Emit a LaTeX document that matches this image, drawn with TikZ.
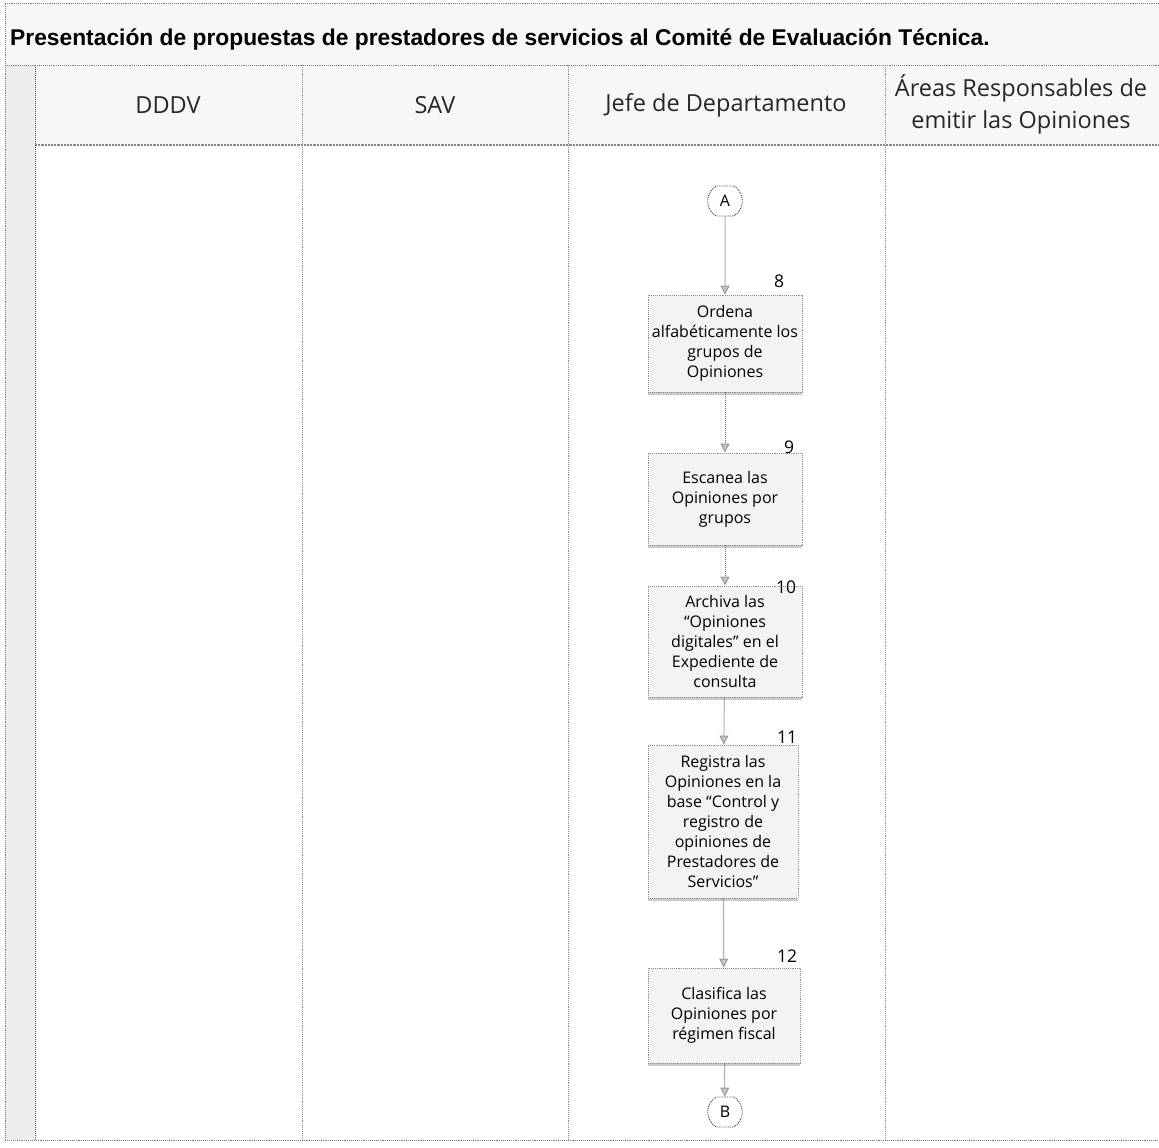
\documentclass[tikz,border=0pt]{standalone}
\usepackage{fontspec}
\setmainfont{Open Sans}
\newfontfamily\titlefont{Liberation Sans}
\usetikzlibrary{arrows.meta,shapes.misc,shadows}
\definecolor{framegray}{HTML}{7A7A7A}
\definecolor{lanegray}{HTML}{8A8A8A}
\definecolor{stripgray}{HTML}{EDEDED}
\definecolor{headfill}{HTML}{F7F7F7}
\definecolor{boxfill}{HTML}{F3F3F3}
\definecolor{boxline}{HTML}{8F8F8F}
\definecolor{tipgray}{HTML}{C4C4C4}
\definecolor{tipedge}{HTML}{9A9A9A}
\tikzset{
  frameline/.style={draw=framegray, line width=0.9pt, densely dotted},
  laneline/.style={draw=lanegray, line width=0.9pt, densely dotted},
  lanehead/.style={font=\fontsize{23.5}{32}\selectfont, align=center, text=black!85},
  stepbox/.style={draw=boxline, densely dotted, line width=0.9pt, fill=boxfill,
    align=center, inner sep=0pt, minimum width=154pt,
    font=\fontsize{16}{20}\selectfont,
    drop shadow={shadow xshift=0pt, shadow yshift=-3pt, fill=black!45, opacity=0.45}},
  stepnum/.style={font=\fontsize{17.5}{18}\selectfont, inner sep=0pt},
  pageconn/.style={draw=black!75, densely dotted, line width=0.9pt, fill=white,
    rounded rectangle, rounded rectangle arc length=120, minimum width=30pt,
    minimum height=30pt, inner sep=0pt, font=\fontsize{16}{18}\selectfont},
  flow/.style={draw=black!60, densely dotted, line width=1pt,
    -{Triangle[length=9pt, width=9pt, fill=tipgray, color=tipedge]}},
}
\begin{document}
\begin{tikzpicture}[x=1pt, y=-1pt]
\useasboundingbox (0,0) rectangle (1159,1148);
\fill[white] (0,0) rectangle (1159,1148);

% shaded title and heading rows, left strip
\fill[headfill] (5,3) rectangle (1159,145);
\fill[stripgray] (5,65) rectangle (35,1140);

% outer frame (open to the right) and row separators
\draw[frameline] (1159,3) -- (5,3) -- (5,1140) -- (1159,1140);
\draw[frameline] (5,65) -- (1159,65);
\draw[draw=lanegray, line width=2.2pt, densely dotted] (35,145) -- (1159,145);
\draw[draw=black!70, line width=1pt, densely dotted] (35,65) -- (35,1140);

% lane separators
\foreach \lx in {302,568,885} {
  \draw[laneline] (\lx,65) -- (\lx,1140);
}

% title
\node[anchor=west, inner sep=0pt, font=\titlefont\bfseries\fontsize{22.8}{26}\selectfont]
  (title) at (10,40) {Presentación de propuestas de prestadores de servicios al Comité de Evaluación Técnica.};

% lane headings
\node[lanehead] (hdddv) at (168,105) {DDDV};
\node[lanehead] (hsav) at (435,105) {SAV};
\node[lanehead] (hjefe) at (726,105) {Jefe de Departamento};
\node[lanehead] (hareas) at (1021,104) {Áreas Responsables de\\emitir las Opiniones};

% off-page connectors
\node[pageconn] (ca) at (725,201) {A};
\node[pageconn] (cb) at (725,1112) {B};

% process steps
\node[stepbox, minimum height=97pt] (s8) at (725,343.5) {Ordena\\alfabéticamente los\\grupos de\\Opiniones};
\node[stepbox, minimum height=92pt] (s9) at (725,499) {Escanea las\\Opiniones por\\grupos};
\node[stepbox, minimum height=111pt] (s10) at (725,641.5) {Archiva las\\“Opiniones\\digitales” en el\\Expediente de\\consulta};
\node[stepbox, minimum height=153pt, minimum width=150pt] (s11) at (723,821.5) {Registra las\\Opiniones en la\\base “Control y\\registro de\\opiniones de\\Prestadores de\\Servicios”};
\node[stepbox, minimum height=95pt, minimum width=152pt] (s12) at (724,1015.5) {Clasifica las\\Opiniones por\\régimen fiscal};

% step numbers
\node[stepnum] (n8) at (779,281) {8};
\node[stepnum] (n9) at (789,447) {9};
\node[stepnum] (n10) at (786,587) {10};
\node[stepnum] (n11) at (787,737) {11};
\node[stepnum] (n12) at (787,956) {12};

% flow
\draw[flow] (ca) -- (s8);
\draw[flow] (s8) -- (s9);
\draw[flow] (s9) -- (s10);
\draw[flow] (s10) -- (s11);
\draw[flow] (s11) -- (s12);
\draw[flow] (s12) -- (cb);
\end{tikzpicture}
\end{document}
